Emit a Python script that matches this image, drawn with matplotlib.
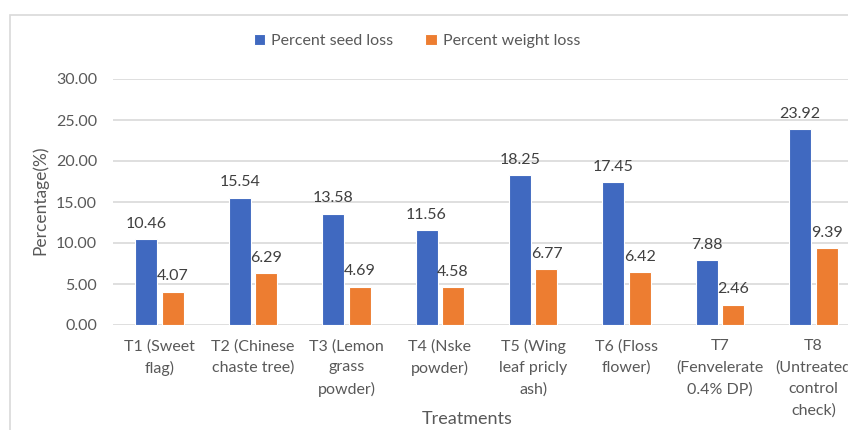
import matplotlib.pyplot as plt
import matplotlib.patches as mpatches
import numpy as np

plt.rcParams['font.family'] = ['Lato', 'DejaVu Sans']

treatments = ["T1 (Sweet\nflag)", "T2 (Chinese\nchaste tree)", "T3 (Lemon\ngrass\npowder)",
              "T4 (Nske\npowder)", "T5 (Wing\nleaf pricly\nash)", "T6 (Floss\nflower)",
              "T7\n(Fenvelerate\n0.4% DP)", "T8\n(Untreated\ncontrol\ncheck)"]
seed_loss = [10.46, 15.54, 13.58, 11.56, 18.25, 17.45, 7.88, 23.92]
weight_loss = [4.07, 6.29, 4.69, 4.58, 6.77, 6.42, 2.46, 9.39]

blue = "#4069C0"
orange = "#ED7D31"
grey = "#595959"

fig = plt.figure(figsize=(8.48, 4.30), dpi=100)

# chart frame (runs off the right and bottom)
fig.patches.append(mpatches.Rectangle((9.5 / 848, -0.1), 1.2, (430 - 14.5) / 430 + 0.1,
                                      transform=fig.transFigure, fill=False,
                                      edgecolor="#D9D9D9", linewidth=1.2))

ax = fig.add_axes([113 / 848, (430 - 325) / 430, 747 / 848, (325 - 79) / 430])
x = np.arange(len(treatments))
w = 0.235
off = 0.142
b1 = ax.bar(x - off, seed_loss, w, color=blue, edgecolor="white", linewidth=0.8,
            label="Percent seed loss", zorder=3)
b2 = ax.bar(x + off, weight_loss, w, color=orange, edgecolor="white", linewidth=0.8,
            label="Percent weight loss", zorder=3)

for rects, vals in ((b1, seed_loss), (b2, weight_loss)):
    for r, v in zip(rects, vals):
        ax.annotate(f"{v:.2f}", (r.get_x() + r.get_width() / 2, v),
                    xytext=(0, 6), textcoords="offset points",
                    ha="center", va="bottom", fontsize=11.5, color="#404040")

ax.set_xlim(-0.5, len(treatments) - 0.5)
ax.set_ylim(0, 30)
ax.set_yticks(np.arange(0, 31, 5))
ax.set_yticklabels([f"{v:.2f}" for v in np.arange(0, 31, 5)])
ax.set_xticks(x)
ax.set_xticklabels(treatments, linespacing=1.65)
ax.tick_params(axis="both", length=0, colors=grey, labelsize=11.5)
ax.tick_params(axis="y", pad=11.5)
ax.tick_params(axis="x", pad=10)
ax.grid(axis="y", color="#D9D9D9", linewidth=1.2, zorder=0)
for s in ax.spines.values():
    s.set_visible(False)

fig.text(40 / 848, (430 - 200) / 430, "Percentage(%)", rotation=90, ha="center",
         va="center", fontsize=12.5, color=grey)
fig.text(467 / 848, (430 - 419) / 430, "Treatments", ha="center", va="center",
         fontsize=13, color=grey)

fig.legend(handles=[b1, b2], loc="center", bbox_to_anchor=(417 / 848, (430 - 41) / 430),
           ncol=2, frameon=False, fontsize=11.5, labelcolor=grey, handlelength=0.7,
           handleheight=0.7, handletextpad=0.4, columnspacing=2.0)

fig.savefig("out.png", dpi=100)
